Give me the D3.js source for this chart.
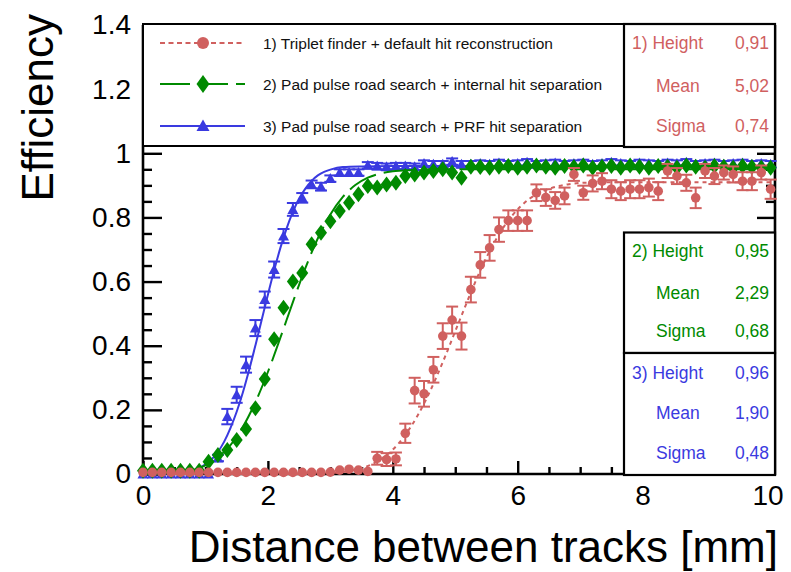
<!DOCTYPE html>
<html><head><meta charset="utf-8">
<script src="https://cdn.jsdelivr.net/npm/d3@7"></script>
<style>
body{margin:0;background:#fff}
svg{display:block}
text{font-family:"Liberation Sans",Arial,Helvetica,sans-serif}
</style>
</head><body>
<svg id="c" width="791" height="572"></svg>
<script>
// ---------- data ----------
const distance = [0,0.15,0.3,0.45,0.6,0.75,0.9,1.05,1.2,1.35,1.5,1.65,1.8,1.95,2.1,2.25,2.4,2.55,2.7,2.85,3.0,3.15,3.3,3.45,3.6,3.75,3.9,4.05,4.2,4.35,4.5,4.65,4.8,4.95,5.1,5.25,5.4,5.55,5.7,5.85,6.0,6.15,6.3,6.45,6.6,6.75,6.9,7.05,7.2,7.35,7.5,7.65,7.8,7.95,8.1,8.25,8.4,8.55,8.7,8.85,9.0,9.15,9.3,9.45,9.6,9.75,9.9,10.05];

const tripletEff = [0.005,0.005,0.005,0.005,0.005,0.005,0.005,0.005,0.005,0.005,
  0.005,0.005,0.005,0.005,0.005,0.005,0.005,0.005,0.005,0.005,
  0.006,0.012,0.015,0.012,0.008,
  0.049,0.045,0.047,0.127,0.26,0.25,0.325,0.43,0.48,0.43,
  0.575,0.652,0.705,0.762,0.79,0.79,0.79,0.877,0.862,0.853,
  0.867,0.934,0.877,0.906,0.913,0.888,0.882,0.888,0.888,0.893,
  0.882,0.945,0.929,0.908,0.861,0.945,0.929,0.94,0.934,0.913,
  0.913,0.94,0.888];
const tripletErr = [0,0,0,0,0,0,0,0,0,0,0,0,0,0,0,0,0,0,0,0,
  0.003,0.005,0.005,0.005,0.005,
  0.02,0.02,0.02,0.03,0.04,0.04,0.04,0.04,0.042,0.042,
  0.04,0.04,0.04,0.038,0.032,0.032,0.032,0.026,0.026,0.026,
  0.026,0.02,0.022,0.025,0.025,0.028,0.028,0.028,0.028,0.028,
  0.028,0.022,0.025,0.025,0.032,0.022,0.025,0.022,0.025,0.028,
  0.028,0.022,0.03];

const padEff = [0.01,0.01,0.01,0.01,0.01,0.01,0.01,
  0.038,0.059,0.075,
  0.106,0.14,0.205,0.296,0.42,0.518,0.60,0.627,0.716,0.752,
  0.788,0.82,0.846,0.872,0.898,0.893,0.903,0.908,0.929,0.934,
  0.94,0.945,0.95,0.94,0.924,0.958,0.957,0.955,0.958,0.96,
  0.955,0.958,0.962,0.958,0.955,0.96,0.957,0.962,0.955,0.958,
  0.96,0.955,0.962,0.958,0.955,0.96,0.958,0.955,0.962,0.958,
  0.955,0.96,0.958,0.955,0.96,0.957,0.955,0.955];

const prfEff = [0,0,0,0,0,0,0,0,
  0.05,0.179,
  0.247,0.341,0.455,0.544,0.6375,0.742,0.825,0.861,0.903,0.896,
  0.921,0.94,0.94,0.94,0.9625,0.96,0.958,0.96,0.96,0.958,
  0.968,0.966,0.966,0.974,0.966,0.966,0.968,0.966,0.97,0.966,
  0.968,0.972,0.966,0.968,0.97,0.966,0.968,0.97,0.966,0.968,
  0.972,0.968,0.966,0.97,0.968,0.966,0.97,0.968,0.972,0.966,
  0.968,0.97,0.966,0.968,0.97,0.966,0.968,0.966];
const prfErr = [0,0,0,0,0,0,0,0,
  0.01,0.024,
  0.025,0.025,0.025,0.025,0.025,0.022,0.02,0.015,0.012,0.012,
  0.01,0.01,0.01,0.01,0.01,0.01,0.01,0.01,0.01,0.01,
  0.01,0.01,0.01,0.01,0.01,0.01,0.01,0.01,0.01,0.01,
  0.01,0.01,0.01,0.01,0.01,0.01,0.01,0.01,0.01,0.01,
  0.01,0.01,0.01,0.01,0.01,0.01,0.01,0.01,0.01,0.01,
  0.01,0.01,0.01,0.01,0.01,0.01,0.01,0.01];

// fitted curves
const tripletFitX = [0,2.5,3.0,3.3,3.5,3.65,3.8,3.95,4.1,4.25,4.4,4.55,4.7,4.85,5.0,5.15,5.3,5.45,5.6,5.75,5.9,6.05,6.2,6.35,6.5,6.8,7.2,8.0,10.05];
const tripletFitY = [0,0,0.003,0.009,0.018,0.029,0.045,0.067,0.097,0.136,0.183,0.239,0.303,0.372,0.445,0.518,0.589,0.655,0.713,0.763,0.803,0.835,0.860,0.877,0.889,0.903,0.909,0.910,0.910];
const padFitX = [0,0.6,1.0,1.2,1.4,1.6,1.8,2.0,2.2,2.4,2.6,2.8,3.0,3.2,3.4,3.6,3.8,4.0,4.3,4.7,10.05];
const padFitY = [0,0.006,0.027,0.052,0.090,0.147,0.224,0.318,0.425,0.536,0.642,0.735,0.809,0.864,0.901,0.924,0.937,0.944,0.948,0.950,0.950];
const prfFitX = [0,0.6,0.9,1.1,1.2,1.3,1.4,1.5,1.6,1.7,1.8,1.9,2.0,2.1,2.2,2.3,2.4,2.5,2.6,2.7,2.8,2.9,3.0,3.2,3.5,4.0,10.05];
const prfFitY = [0,0.003,0.018,0.046,0.069,0.101,0.143,0.194,0.255,0.325,0.401,0.48,0.559,0.635,0.705,0.766,0.817,0.859,0.890,0.914,0.931,0.942,0.949,0.957,0.959,0.960,0.960];

const xMajorTicks = [0,2,4,6,8,10];
const xTickLabels = ["0","2","4","6","8","10"];
const xMinorTicks = [0.5,1,1.5,2.5,3,3.5,4.5,5,5.5,6.5,7,7.5,8.5,9,9.5];
const yMajorTicks = [0,0.2,0.4,0.6,0.8,1,1.2,1.4];
const yTickLabels = ["0","0.2","0.4","0.6","0.8","1","1.2","1.4"];
const yMinorTicks = [0.05,0.1,0.15,0.25,0.3,0.35,0.45,0.5,0.55,0.65,0.7,0.75,0.85,0.9,0.95,1.05,1.1,1.15,1.25,1.3,1.35];

const legendLabels = ["1) Triplet finder + default hit reconstruction",
  "2) Pad pulse road search + internal hit separation",
  "3) Pad pulse road search + PRF hit separation"];
const statNames = ["Height","Mean","Sigma"];
const statValues = [["0,91","5,02","0,74"],["0,95","2,29","0,68"],["0,96","1,90","0,48"]];
const xTitle = "Distance between tracks [mm]";
const yTitle = "Efficiency";

// ---------- styles ----------
const RED = "#d0605f", GREEN = "#008a00", BLUE = "#3a3ae0";

const svg = d3.select("#c");
const x = d3.scaleLinear().domain([0, 10.12]).range([143, 775]);
const y = d3.scaleLinear().domain([0, 1.4]).range([474, 25]);

// frame
svg.append("path")
  .attr("d", `M${x(0)},${y(1.4)}V${y(0)}H${x(10.12)}V${y(1.4)}`)
  .attr("fill","none").attr("stroke","#000").attr("stroke-width",2.6);

function styleAxis(g){
  g.select(".domain").remove();
  g.selectAll("line").attr("stroke","#000").attr("stroke-width",2.4);
}
// bottom axis
svg.append("g").attr("transform",`translate(0,${y(0)})`)
  .call(d3.axisBottom(x).tickValues(xMajorTicks).tickFormat((d,i)=>xTickLabels[i]).tickSize(-13).tickPadding(11))
  .call(styleAxis)
  .call(g=>g.selectAll("text").attr("font-size",28).attr("fill","#000"));
svg.append("g").attr("transform",`translate(0,${y(0)})`)
  .call(d3.axisBottom(x).tickValues(xMinorTicks).tickFormat("").tickSize(-7))
  .call(styleAxis);
// left axis
svg.append("g").attr("transform",`translate(${x(0)},0)`)
  .call(d3.axisLeft(y).tickValues(yMajorTicks).tickFormat((d,i)=>yTickLabels[i]).tickSize(-19).tickPadding(12))
  .call(styleAxis)
  .call(g=>g.selectAll("text").attr("font-size",28).attr("fill","#000"));
svg.append("g").attr("transform",`translate(${x(0)},0)`)
  .call(d3.axisLeft(y).tickValues(yMinorTicks).tickFormat("").tickSize(-9))
  .call(styleAxis);
// right axis
svg.append("g").attr("transform",`translate(${x(10.12)},0)`)
  .call(d3.axisLeft(y).tickValues(yMajorTicks).tickFormat("").tickSize(18))
  .call(styleAxis);
svg.append("g").attr("transform",`translate(${x(10.12)},0)`)
  .call(d3.axisLeft(y).tickValues(yMinorTicks).tickFormat("").tickSize(9))
  .call(styleAxis);

// titles
svg.append("text").attr("x", 778).attr("y", 562).attr("text-anchor","end")
  .attr("font-size",44).attr("fill","#000").text(xTitle);
svg.append("text").attr("transform","translate(53,14) rotate(-90)").attr("text-anchor","end")
  .attr("font-size",44).attr("fill","#000").text(yTitle);

// markers
const triPath = "M0,-5.5L5.5,4.5L-5.5,4.5Z";
const diaPath = "M0,-8L6,0L0,8L-6,0Z";

const line = (xs, ys) => d3.line().x((d,i)=>x(xs[i])).y((d,i)=>y(ys[i])).curve(d3.curveMonotoneX)(xs);

function errorBars(ys, errs, color){
  const g = svg.append("g").attr("stroke",color).attr("stroke-width",2);
  distance.forEach((d,i)=>{
    const e = errs[i];
    if (e < 0.008) return;
    const cx = x(d), y1 = y(ys[i]+e), y2 = y(ys[i]-e);
    g.append("line").attr("x1",cx).attr("x2",cx).attr("y1",y1).attr("y2",y2);
    g.append("line").attr("x1",cx-6).attr("x2",cx+6).attr("y1",y1).attr("y2",y1);
    g.append("line").attr("x1",cx-6).attr("x2",cx+6).attr("y1",y2).attr("y2",y2);
  });
}

// series 3 (blue) first
errorBars(prfEff, prfErr, BLUE);
svg.append("g").selectAll("path").data(distance).join("path")
  .attr("d",triPath).attr("fill",BLUE)
  .attr("transform",(d,i)=>`translate(${x(d)},${y(prfEff[i])})`);
svg.append("path").attr("d", line(prfFitX, prfFitY))
  .attr("fill","none").attr("stroke",BLUE).attr("stroke-width",2);

// series 2 (green)
svg.append("g").selectAll("path").data(distance).join("path")
  .attr("d",diaPath).attr("fill",GREEN)
  .attr("transform",(d,i)=>`translate(${x(d)},${y(padEff[i])})`);
svg.append("path").attr("d", line(padFitX, padFitY))
  .attr("fill","none").attr("stroke",GREEN).attr("stroke-width",2).attr("stroke-dasharray","30,8");

// series 1 (red)
errorBars(tripletEff, tripletErr, RED);
svg.append("g").selectAll("circle").data(distance).join("circle")
  .attr("cx",d=>x(d)).attr("cy",(d,i)=>y(tripletEff[i])).attr("r",4.8).attr("fill",RED);
svg.append("path").attr("d", line(tripletFitX, tripletFitY))
  .attr("fill","none").attr("stroke",RED).attr("stroke-width",2).attr("stroke-dasharray","4,4");

// legend box
svg.append("rect").attr("x",143).attr("y",24).attr("width",484).attr("height",122)
  .attr("fill","#fff").attr("stroke","#000").attr("stroke-width",2);
const legRows = [43, 84, 126];
const legColors = [RED, GREEN, BLUE];
const legDash = ["5,3.5","30,8",null];
legRows.forEach((ry,i)=>{
  const l = svg.append("line").attr("x1",160).attr("x2",245).attr("y1",ry).attr("y2",ry)
    .attr("stroke",legColors[i]).attr("stroke-width",2);
  if (legDash[i]) l.attr("stroke-dasharray",legDash[i]);
  if (i===0) svg.append("circle").attr("cx",203).attr("cy",ry).attr("r",6).attr("fill",RED);
  if (i===1) svg.append("path").attr("d","M0,-9L6.5,0L0,9L-6.5,0Z").attr("fill",GREEN).attr("transform",`translate(203,${ry})`);
  if (i===2) svg.append("path").attr("d","M0,-6.5L6.5,5L-6.5,5Z").attr("fill",BLUE).attr("transform",`translate(203,${ry})`);
  svg.append("text").attr("x",263).attr("y",ry+5.5).attr("font-size",15.5).attr("fill","#111").text(legendLabels[i]);
});

// stat boxes
const boxes = [
  {y0:24, y1:147, rows:[43,86,126]},
  {y0:232.5, y1:353, rows:[251,293,331]},
  {y0:353, y1:475, rows:[373,413,453]}
];
boxes.forEach((b,bi)=>{
  svg.append("rect").attr("x",624).attr("y",b.y0).attr("width",151).attr("height",b.y1-b.y0)
    .attr("fill","#fff").attr("stroke","#000").attr("stroke-width",2.2);
  b.rows.forEach((ry,ri)=>{
    svg.append("text").attr("x", ri===0 ? 632 : 656).attr("y",ry+6).attr("font-size",17.5)
      .attr("fill",legColors[bi]).text(ri===0 ? `${bi+1}) ${statNames[0]}` : statNames[ri]);
    svg.append("text").attr("x",769).attr("y",ry+6).attr("font-size",17.5).attr("text-anchor","end")
      .attr("fill",legColors[bi]).text(statValues[bi][ri]);
  });
});
</script>
</body></html>
